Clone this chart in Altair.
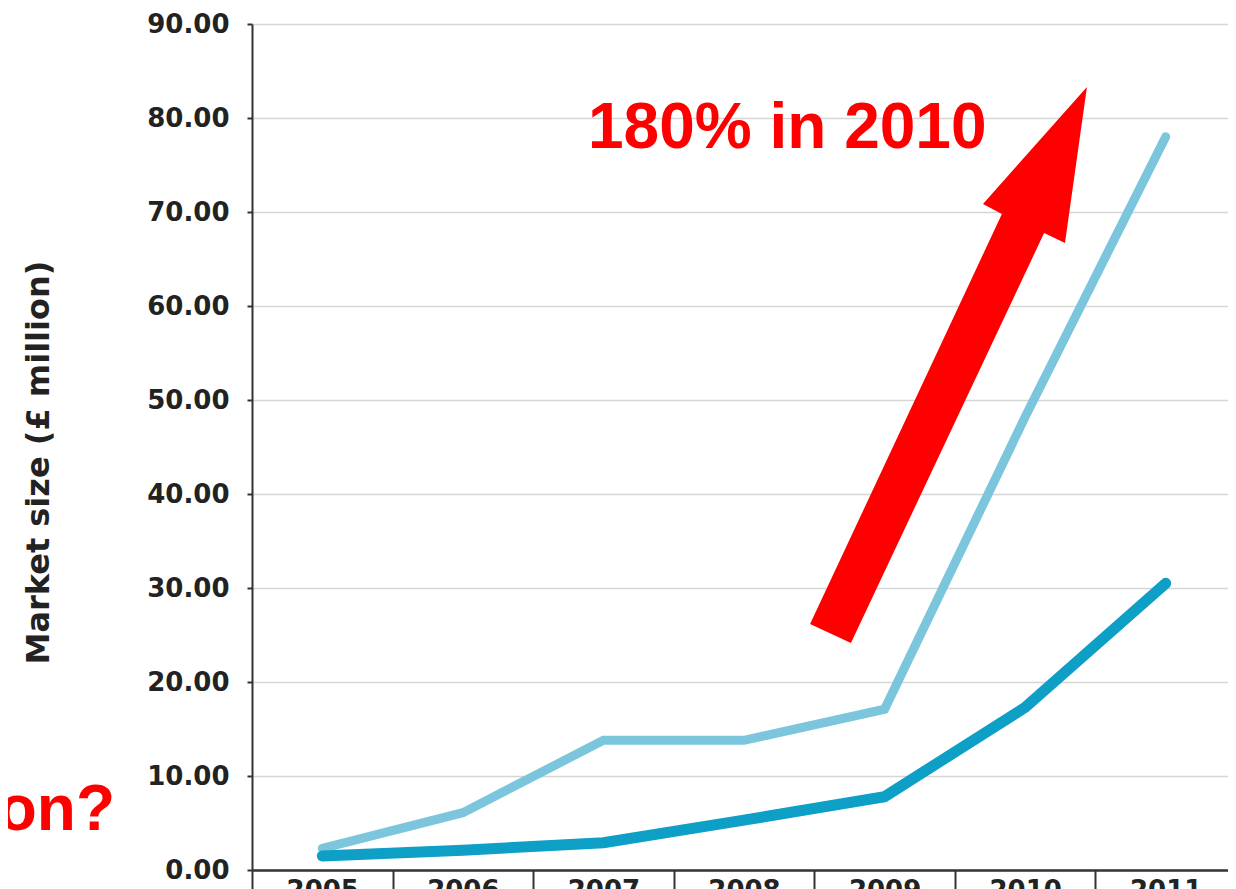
import altair as alt
import pandas as pd

# ---- data ----
years = ["2005", "2006", "2007", "2008", "2009", "2010", "2011"]
total_market = [2.3, 6.1, 13.8, 13.8, 17.1, 48.2, 78.0]     # light blue line
segment_market = [1.5, 2.1, 2.9, 5.3, 7.8, 17.3, 30.5]      # dark teal line
y_ticks = [0, 10, 20, 30, 40, 50, 60, 70, 80, 90]
y_title = "Market size (£ million)"
headline = "180% in 2010"
side_note = "on?"

df_total = pd.DataFrame({"year": years, "value": total_market})
df_segment = pd.DataFrame({"year": years, "value": segment_market})

AXIS_FONT = "DejaVu Sans"

x_enc = alt.X(
    "year:O",
    title=None,
    scale=alt.Scale(type="band", paddingInner=0, paddingOuter=0),
    axis=alt.Axis(
        tickBand="extent",
        tickSize=30,
        tickColor="#333333",
        tickWidth=2,
        labelPadding=-23,
        labelAngle=0,
        labelFont=AXIS_FONT,
        labelFontWeight="bold",
        labelFontSize=26,
        labelColor="#222222",
        domainColor="#333333",
        domainWidth=2.5,
        grid=False,
    ),
)

y_enc = alt.Y(
    "value:Q",
    title=y_title,
    scale=alt.Scale(domain=[0, 90], nice=False, zero=True),
    axis=alt.Axis(
        values=y_ticks,
        format=".2f",
        tickSize=5,
        tickColor="#333333",
        tickWidth=2,
        labelPadding=18,
        labelFont=AXIS_FONT,
        labelFontWeight="bold",
        labelFontSize=26,
        labelColor="#222222",
        domainColor="#333333",
        domainWidth=2,
        grid=True,
        gridColor="#d6d6d6",
        gridWidth=1.5,
        titleFont=AXIS_FONT,
        titleFontSize=32,
        titleFontWeight="bold",
        titleColor="#222222",
        titleAngle=270,
        titleAlign="center",
        titleBaseline="middle",
        titleX=-214,
        titleY=438,
    ),
)

light = alt.Chart(df_total).mark_line(
    color="#7BC6DD", strokeWidth=9, strokeCap="round"
).encode(x=x_enc, y=y_enc)

dark = alt.Chart(df_segment).mark_line(
    color="#0E9FC6", strokeWidth=11, strokeCap="round"
).encode(x=alt.X("year:O"), y=alt.Y("value:Q"))

ARROW_PATH = (
    "M0.498,-1 L0.419,-0.439 L0.344,-0.475 L-0.351,1 "
    "L-0.498,0.932 L0.192,-0.543 L0.124,-0.579 Z"
)
arrow = alt.Chart(alt.Data(values=[{"name": "arrow"}])).mark_point(
    shape=ARROW_PATH, size=309136, filled=True, color="#FF0000", opacity=1
).encode(x=alt.value(696.5), y=alt.value(341))

head_text = alt.Chart(alt.Data(values=[{"t": headline}])).mark_text(
    font="Liberation Sans", fontWeight="bold", fontSize=64, color="#FF0000",
    align="left", baseline="alphabetic"
).encode(text="t:N", x=alt.value(336), y=alt.value(124))

side_text = alt.Chart(alt.Data(values=[{"t": side_note}])).mark_text(
    font="Liberation Sans", fontWeight="bold", fontSize=64, color="#FF0000",
    align="right", baseline="alphabetic"
).encode(text="t:N", x=alt.value(-137), y=alt.value(806))

chart = alt.layer(light, dark, arrow, head_text, side_text).properties(
    width=984,
    height=846,
    autosize=alt.AutoSizeParams(type="none"),
    padding={"left": 244, "top": 16, "right": -8, "bottom": 19},
    background="white",
).configure_view(stroke=None)

chart.save("out.html", embed_options={"renderer": "svg", "actions": False})
